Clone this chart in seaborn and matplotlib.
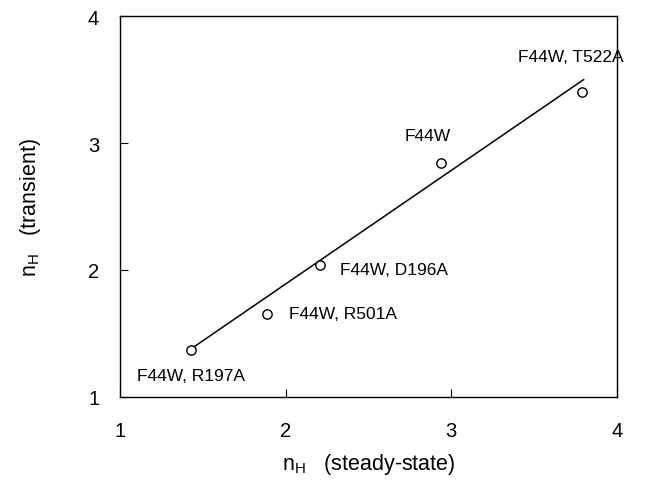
import matplotlib
matplotlib.use("Agg")
import matplotlib.pyplot as plt
import seaborn as sns
import pandas as pd

# data
mutants = ["F44W, R197A", "F44W, R501A", "F44W, D196A", "F44W", "F44W, T522A"]
nh_steady = [1.43, 1.89, 2.21, 2.94, 3.79]
nh_transient = [1.37, 1.65, 2.04, 2.84, 3.40]
fit_x = [1.43, 3.80]
fit_y = [1.38, 3.50]
ticks = [1, 2, 3, 4]

# label anchor positions (data coordinates) and alignments
label_x = [1.10, 2.02, 2.33, 2.86, 3.72]
label_y = [1.17, 1.66, 2.00, 3.06, 3.68]
label_ha = ["left", "left", "left", "center", "center"]

sns.set_style("ticks")
plt.rcParams["font.family"] = ["Liberation Sans", "DejaVu Sans"]
plt.rcParams["mathtext.fontset"] = "custom"
plt.rcParams["mathtext.rm"] = "Liberation Sans"
plt.rcParams["text.color"] = "black"
plt.rcParams["axes.labelcolor"] = "black"
plt.rcParams["xtick.color"] = "black"
plt.rcParams["ytick.color"] = "black"

fig = plt.figure(figsize=(6.47, 4.81), dpi=100)
ax = fig.add_axes([0.1855, 0.1726, 0.768, 0.792])

pts = pd.DataFrame({"x": nh_steady, "y": nh_transient, "m": mutants})
fit = pd.DataFrame({"x": fit_x, "y": fit_y})

sns.lineplot(data=fit, x="x", y="y", color="black", linewidth=1.1, ax=ax)
sns.scatterplot(data=pts, x="x", y="y", marker="o", s=45, facecolor="white",
                edgecolor="black", linewidth=1.0, ax=ax, zorder=3)

for lx, ly, t, ha in zip(label_x, label_y, mutants, label_ha):
    ax.text(lx, ly, t, ha=ha, va="center", fontsize=12.5, color="black")

ax.set_xlim(1, 4)
ax.set_ylim(1, 4)
ax.set_xticks(ticks)
ax.set_yticks(ticks)
ax.set_xticklabels([str(t) for t in ticks])
ax.set_yticklabels([str(t) for t in ticks])
ax.tick_params(direction="in", length=6, width=0.8, labelsize=14.5,
               color="black", labelcolor="black")
ax.tick_params(axis="x", pad=17)
ax.tick_params(axis="y", pad=15)
for s in ax.spines.values():
    s.set_color("black")
    s.set_linewidth(1.0)

ax.set_xlabel(r"n$_\mathregular{H}$   (steady-state)", fontsize=15.5, labelpad=8)
ax.set_ylabel(r"n$_\mathregular{H}$   (transient)", fontsize=15.5, labelpad=32)

fig.savefig("out.png", dpi=100)
